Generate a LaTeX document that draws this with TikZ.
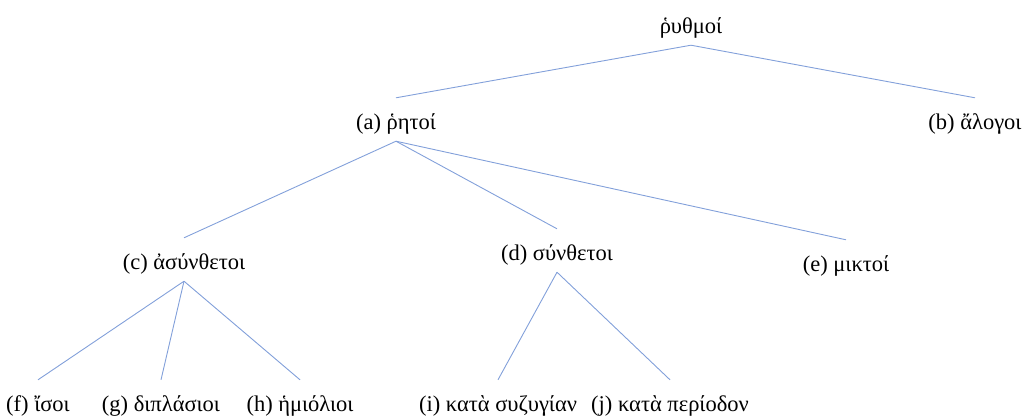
\documentclass[tikz,border=0pt]{standalone}
\usepackage{fontspec}
\setmainfont{Liberation Serif}
\begin{document}
\begin{tikzpicture}[x=1pt,y=-1pt,
  tnode/.style={anchor=base, inner xsep=0pt, inner ysep=12pt, text height=19pt, text depth=0pt, font=\fontsize{22.5}{26}\selectfont},
  edge/.style={draw={rgb,255:red,130;green,160;blue,218}, line width=0.9pt}]
\useasboundingbox (0,0) rectangle (1029,418);
\node[tnode] (root) at (691,33) {ῥυθμοί};
\node[tnode] (a) at (396,129) {(a) ῥητοί};
\node[tnode] (b) at (975,129) {(b) ἄλογοι};
\node[tnode] (c) at (184,269) {(c) ἀσύνθετοι};
\node[tnode] (d) at (557,260) {(d) σύνθετοι};
\node[tnode] (e) at (846,271) {(e) μικτοί};
\node[tnode] (f) at (38,411) {(f) ἴσοι};
\node[tnode] (g) at (161,411) {(g) διπλάσιοι};
\node[tnode] (h) at (300,411) {(h) ἡμιόλιοι};
\node[tnode] (i) at (498,411) {(i) κατὰ συζυγίαν};
\node[tnode] (j) at (670,411) {(j) κατὰ περίοδον};
\path[edge] (root.south) -- (a.north);
\path[edge] (root.south) -- (b.north);
\path[edge] (a.south) -- (c.north);
\path[edge] (a.south) -- (d.north);
\path[edge] (a.south) -- (e.north);
\path[edge] (c.south) -- (f.north);
\path[edge] (c.south) -- (g.north);
\path[edge] (c.south) -- (h.north);
\path[edge] (d.south) -- (i.north);
\path[edge] (d.south) -- (j.north);
\end{tikzpicture}
\end{document}
